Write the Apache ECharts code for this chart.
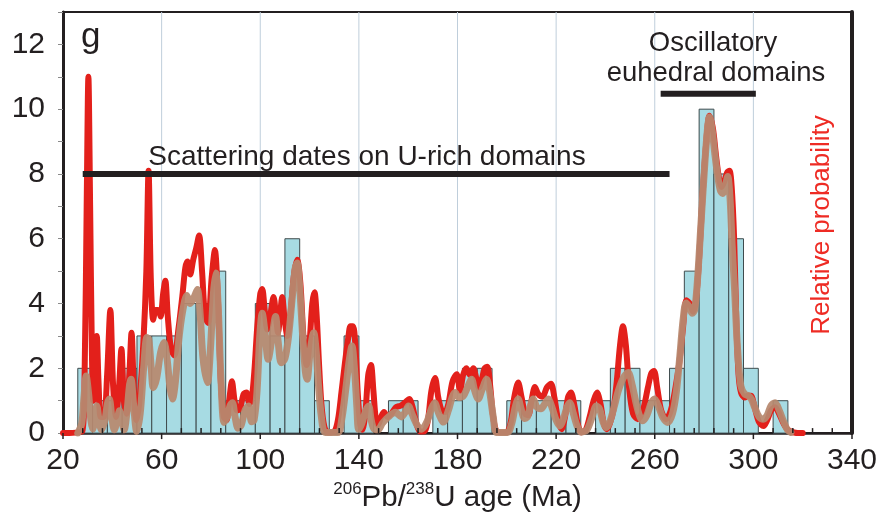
<!DOCTYPE html>
<html>
<head>
<meta charset="utf-8">
<script src="https://cdn.jsdelivr.net/npm/echarts@6/dist/echarts.min.js"></script>
<style>
  html, body { margin: 0; background: #fff; }
  #chart { width: 881px; height: 518px; }
</style>
</head>
<body>
<div id="chart"></div>
<script>
// histogram: 6 Ma bins, left edge + count
const binWidth = 6;
const binStarts = [26, 32, 38, 44, 50, 56, 62, 68, 74, 80, 86, 92, 98, 104, 110, 116, 122, 128,
  134, 140, 146, 152, 158, 164, 170, 176, 182, 188, 194, 200, 206, 212, 218, 224, 230, 236,
  242, 248, 254, 260, 266, 272, 278, 284, 290, 296, 302, 308];
const binCounts = [2, 1, 1, 2, 3, 3, 3, 4, 4, 5, 1, 1, 4, 3, 6, 3, 1, 0,
  3, 1, 0, 1, 1, 0, 1, 1, 2, 2, 0, 1, 1, 1, 1, 1, 0, 1,
  2, 2, 1, 1, 2, 5, 10, 8, 6, 2, 0, 1];

// relative probability curve (red), [age, value on count scale]
const redCurve = [[20,0],[27.8,0.05],[28.8,2.0],[29.6,7.0],[30.3,11.0],[31.0,7.0],[31.7,2.6],[32.3,1.0],
  [33.0,1.8],[33.7,3.0],[34.4,1.6],[35.3,0.5],[36.6,0.5],[37.9,1.8],[39.2,3.8],[40.3,1.5],[41.5,0.5],
  [42.7,1.4],[43.7,2.6],[44.7,1.0],[45.8,0.6],[46.9,1.8],[47.8,3.1],[48.8,1.2],[49.8,0.4],[51.0,1.0],
  [52.6,2.8],[53.8,5.0],[54.7,8.1],[55.6,4.8],[56.6,3.5],[57.6,3.8],[58.6,3.8],[59.6,3.6],[60.6,4.3],
  [61.5,4.7],[62.5,3.6],[63.8,2.6],[65.2,2.4],[66.8,3.2],[68.5,4.3],[69.6,5.1],[70.5,5.3],[71.6,4.9],
  [72.8,5.35],[74.0,5.7],[75.2,6.1],[76.4,5.0],[77.6,3.6],[78.8,3.4],[80.3,4.8],[81.6,5.65],[82.8,4.2],
  [84.0,1.6],[85.2,0.5],[86.3,0.4],[87.4,1.0],[88.5,1.6],[89.6,1.0],[90.6,0.7],[91.8,0.75],[93.2,1.2],
  [94.4,1.25],[95.6,0.9],[96.6,1.1],[97.6,1.9],[98.8,3.3],[100.0,4.3],[100.8,4.45],[101.8,3.8],
  [102.8,3.2],[104.0,3.6],[105.4,4.2],[106.5,3.5],[107.2,3.1],[108.0,3.6],[108.9,4.2],[109.9,3.5],
  [111.0,3.0],[112.4,3.8],[113.7,4.9],[115.0,5.35],[116.3,4.6],[117.5,3.0],[118.8,2.1],[120.0,2.8],
  [121.1,4.0],[122.0,4.35],[122.9,3.6],[123.8,2.2],[124.8,0.9],[126.0,0.2],[127.5,0.02],[130.0,0.05],
  [131.5,0.4],[133.0,1.3],[134.4,2.2],[135.8,3.0],[136.6,3.3],[137.6,3.3],[138.5,2.8],[139.5,1.3],
  [140.5,0.3],[141.4,0.1],[142.6,0.6],[143.8,1.8],[144.9,2.1],[145.9,1.3],[146.9,0.4],[147.8,0.25],
  [149.0,0.5],[150.2,0.65],[151.6,0.5],[153.2,0.6],[155.0,0.8],[157.0,0.85],[158.8,0.95],[160.4,1.05],
  [161.8,0.8],[163.3,0.3],[164.8,0.05],[166.5,0.05],[168.0,0.4],[169.4,1.3],[170.9,1.7],[172.2,1.1],
  [173.6,0.7],[175.0,0.65],[176.3,0.9],[178.0,1.6],[179.7,1.82],[181.0,1.3],[182.3,1.8],[183.6,2.0],
  [185.0,1.8],[186.4,2.0],[187.6,1.7],[188.7,1.4],[190.0,1.7],[191.0,2.0],[192.1,2.05],[193.2,1.5],
  [194.3,0.6],[195.5,0.1],[197.0,0.02],[199.8,0.02],[201.5,0.3],[203.0,1.1],[204.6,1.56],[206.0,1.1],
  [207.4,0.6],[208.7,0.55],[210.0,1.0],[211.4,1.42],[212.8,1.2],[214.5,1.12],[216.2,1.4],[217.9,1.52],
  [219.3,1.1],[220.8,0.4],[222.2,0.12],[223.6,0.5],[224.8,1.1],[226.0,1.25],[227.3,0.9],[228.7,0.3],
  [230.2,0.03],[232.0,0.1],[233.6,0.5],[235.2,1.0],[236.6,1.25],[238.0,0.9],[239.3,0.3],[240.5,0.12],
  [241.8,0.3],[243.2,0.7],[244.6,1.6],[245.9,2.7],[247.1,3.3],[248.3,2.7],[249.6,1.4],[251.2,0.6],
  [253.2,0.43],[255.2,0.7],[257.2,1.4],[258.6,1.85],[259.7,1.92],[261.0,1.4],[262.6,0.7],[264.6,0.43],
  [266.5,0.7],[268.4,1.4],[270.0,2.2],[271.4,3.2],[272.8,4.1],[274.2,4.0],[275.5,3.75],[276.7,4.1],
  [278.0,5.4],[279.3,7.2],[280.7,8.8],[282.2,9.8],[283.6,9.4],[284.8,8.6],[286.0,7.9],[287.1,7.6],
  [288.3,7.8],[289.4,8.05],[290.3,8.1],[291.2,7.6],[292.2,6.0],[293.1,3.4],[294.0,1.8],[295.0,1.25],
  [296.5,1.1],[297.8,1.15],[299.0,1.15],[300.5,0.8],[302.2,0.35],[304.1,0.22],[305.6,0.4],[307.2,0.7],
  [308.8,0.8],[310.4,0.6],[312.2,0.3],[314.0,0.1],[316.5,0.02],[320,0]];

// density estimate (brown)
const brownCurve = [[26,0],[27.6,0.3],[28.5,1.1],[29.4,1.76],[30.4,1.2],[31.3,0.4],[32.1,0.12],[33.0,0.6],
  [33.7,0.84],[34.6,0.4],[35.6,0.1],[37.0,0.4],[38.0,0.9],[38.8,1.05],[39.8,0.5],[40.8,0.1],[42.0,0.4],
  [42.9,0.69],[43.8,0.4],[44.8,0.1],[46.0,0.7],[47.0,1.5],[47.6,1.66],[48.6,0.9],[49.9,0.05],[51.3,0.6],
  [52.7,2.0],[54.0,2.95],[54.8,2.9],[55.8,2.0],[56.6,1.4],[58.0,1.7],[59.6,2.5],[61.0,2.8],[62.2,2.3],
  [63.4,1.4],[64.4,1.05],[65.6,1.6],[67.0,2.9],[68.6,3.8],[70.2,4.25],[71.6,4.0],[73.2,4.2],[74.5,4.43],
  [75.6,3.7],[76.8,2.3],[78.6,1.56],[79.8,2.6],[81.0,4.3],[82.0,4.94],[83.0,3.8],[84.0,1.8],[85.3,0.33],
  [86.6,0.5],[87.8,0.85],[88.7,0.94],[89.8,0.5],[91.0,0.15],[92.3,0.25],[93.8,0.7],[95.2,0.84],[96.5,0.35],
  [97.5,0.4],[98.7,1.3],[99.8,3.0],[100.8,3.7],[101.8,3.2],[103.2,2.28],[104.7,2.9],[106.2,3.6],[107.3,2.8],
  [108.5,2.17],[110.0,2.3],[111.5,3.0],[113.0,4.2],[114.2,5.1],[115.0,5.25],[116.0,4.5],[117.2,3.0],
  [118.3,1.9],[119.0,1.66],[120.2,2.5],[121.2,3.0],[121.7,3.1],[122.6,2.6],[123.6,1.5],[124.8,0.5],
  [126.4,0.02],[131.5,0.02],[133.0,0.4],[134.6,1.3],[136.0,2.2],[137.2,2.69],[138.3,1.9],[139.2,0.8],
  [139.9,0.12],[141.2,0.3],[142.8,0.7],[144.0,0.84],[145.0,0.4],[146.2,0.12],[147.8,0.1],[149.5,0.3],
  [152.0,0.5],[154.8,0.64],[157.2,0.5],[158.8,0.65],[160.1,0.84],[161.5,0.6],[163.6,0.25],[165.5,0.12],
  [167.6,0.35],[169.4,0.75],[170.7,0.94],[172.4,0.6],[174.3,0.34],[176.3,0.7],[177.8,1.1],[179.0,1.25],
  [180.5,1.1],[182.4,1.15],[184.0,1.4],[185.7,1.66],[187.0,1.3],[188.4,1.05],[190.0,1.35],[191.8,1.66],
  [193.0,1.3],[194.5,0.5],[195.9,0.02],[200.3,0.02],[202.0,0.3],[203.4,0.8],[204.6,1.05],[205.8,0.75],
  [207.2,0.45],[208.4,0.5],[209.6,0.85],[210.7,1.05],[212.2,0.8],[213.8,0.75],[215.4,0.9],[216.8,1.05],
  [218.3,0.8],[220.0,0.4],[221.5,0.22],[223.0,0.45],[224.4,0.8],[225.5,0.94],[227.0,0.6],[228.6,0.2],
  [230.2,0.03],[232.5,0.1],[234.6,0.5],[236.3,0.84],[237.6,0.75],[239.0,0.35],[240.3,0.17],[241.8,0.35],
  [243.5,0.8],[245.2,1.3],[247.2,1.7],[249.2,1.87],[250.8,1.5],[252.5,0.9],[254.0,0.5],[255.2,0.38],
  [256.8,0.55],[258.4,0.9],[259.9,1.05],[261.4,0.85],[263.2,0.5],[265.3,0.33],[267.2,0.6],[268.8,1.3],
  [270.2,2.4],[271.5,3.5],[272.7,4.02],[274.0,3.9],[275.2,3.7],[276.2,3.8],[277.4,4.8],[278.7,6.4],
  [280.2,8.2],[281.4,9.4],[282.2,9.76],[283.2,9.4],[284.4,8.6],[285.6,7.9],[286.6,7.5],[287.5,7.4],
  [288.5,7.6],[289.6,7.92],[290.5,7.3],[291.4,5.8],[292.4,4.4],[293.5,2.7],[294.9,1.46],[296.5,1.2],
  [298.0,1.15],[299.2,1.05],[300.5,0.8],[302.3,0.5],[304.1,0.43],[305.6,0.55],[307.2,0.85],[308.8,0.94],
  [310.5,0.7],[312.3,0.35],[313.8,0.1],[315.2,0.02]];

// annotation bars (age range at a count level)
const scatterBar = [[28.0, 8], [266.0, 8]];
const oscillatoryBar = [[262.4, 10.48], [301.0, 10.48]];

// axis decorations
const gridAges = [60, 100, 140, 180, 220, 260, 300];
const majorTickAges = [20, 60, 100, 140, 180, 220, 260, 300, 340];
const minorTickAges = [28, 36, 44, 52, 68, 76, 84, 92, 108, 116, 124, 132, 148, 156, 164, 172,
  188, 196, 204, 212, 228, 236, 244, 252, 268, 276, 284, 292, 308, 316, 324, 332];

const FONT = '"Liberation Sans", Arial, sans-serif';
const INK = '#231f20';

const chart = echarts.init(document.getElementById('chart'), null, { renderer: 'canvas' });

const bins = binStarts
  .map((start, i) => [start, binCounts[i]])
  .filter((d) => d[1] > 0);

const option = {
  animation: false,
  grid: {
    left: 63, right: 29, top: 12, bottom: 84,
    show: true, borderColor: INK, borderWidth: 2, backgroundColor: 'transparent',
  },
  xAxis: {
    type: 'value', min: 20, max: 340, interval: 20,
    axisLine: { lineStyle: { color: INK, width: 2.5 } },
    axisTick: { show: false },
    splitLine: { show: false },
    axisLabel: {
      margin: 13, fontSize: 30, fontFamily: FONT, color: INK,
      formatter: (v) => ((v - 20) % 40 === 0 ? String(v) : ''),
    },
    name: '{sup|206}{main|Pb/}{sup|238}{main|U age (Ma)}',
    nameLocation: 'middle',
    nameGap: 46,
    nameTextStyle: {
      rich: {
        main: { fontSize: 29.5, fontFamily: FONT, color: INK, lineHeight: 34 },
        sup: { fontSize: 17, fontFamily: FONT, color: INK, lineHeight: 18, verticalAlign: 'top' },
      },
    },
  },
  yAxis: [
    {
      type: 'value', min: 0, max: 13, interval: 1, position: 'left',
      axisLine: { show: true, lineStyle: { color: INK, width: 3 } },
      axisTick: { show: true, length: 5, lineStyle: { color: '#8a8a8a' } },
      splitLine: { show: false },
      axisLabel: {
        margin: 18, fontSize: 30, fontFamily: FONT, color: INK,
        formatter: (v) => (v % 2 === 0 && v < 13 ? String(v) : ''),
      },
    },
    {
      type: 'value', min: 0, max: 13, position: 'right',
      axisLine: { show: true, lineStyle: { color: INK, width: 4 } },
      axisTick: { show: false }, axisLabel: { show: false }, splitLine: { show: false },
    },
  ],
  series: [
    {
      // vertical grid lines
      type: 'custom', silent: true, z: 0,
      data: gridAges.map((v) => [v]),
      encode: { x: 0 },
      renderItem: (params, api) => {
        const a = api.coord([api.value(0), 0]);
        const b = api.coord([api.value(0), 13]);
        return {
          type: 'line',
          shape: { x1: a[0], y1: a[1], x2: b[0], y2: b[1] },
          style: { stroke: '#bfcedb', lineWidth: 1 },
        };
      },
    },
    {
      // histogram
      type: 'custom', silent: true, z: 1,
      data: bins,
      encode: { x: 0, y: 1 },
      renderItem: (params, api) => {
        const x0 = api.value(0);
        const top = api.coord([x0, api.value(1)]);
        const base = api.coord([x0 + binWidth, 0]);
        return {
          type: 'rect',
          shape: { x: top[0], y: top[1], width: base[0] - top[0], height: base[1] - top[1] },
          style: { fill: '#a7dbe3', stroke: '#3f4b4d', lineWidth: 1 },
        };
      },
    },
    {
      name: 'Relative probability',
      type: 'line', z: 2, data: redCurve,
      smooth: 0.3, symbol: 'none',
      lineStyle: { color: '#e3201b', width: 6, cap: 'round', join: 'round' },
    },
    {
      name: 'KDE',
      type: 'line', z: 3, data: brownCurve,
      smooth: 0.3, symbol: 'none',
      lineStyle: { color: '#b7896f', width: 7, opacity: 0.93, cap: 'round', join: 'round' },
    },
    {
      type: 'line', z: 4, data: scatterBar, symbol: 'none',
      lineStyle: { color: INK, width: 6, cap: 'butt' },
    },
    {
      type: 'line', z: 4, data: oscillatoryBar, symbol: 'none',
      lineStyle: { color: INK, width: 6, cap: 'butt' },
    },
    {
      // minor ticks, pointing up into the plot
      type: 'custom', silent: true, z: 5,
      data: minorTickAges.map((v) => [v]),
      encode: { x: 0 },
      renderItem: (params, api) => {
        const p = api.coord([api.value(0), 0]);
        return {
          type: 'line',
          shape: { x1: p[0], y1: p[1], x2: p[0], y2: p[1] - 5 },
          style: { stroke: INK, lineWidth: 1.5 },
        };
      },
    },
    {
      // major ticks, pointing down
      type: 'custom', silent: true, z: 5,
      data: majorTickAges.map((v) => [v]),
      encode: { x: 0 },
      renderItem: (params, api) => {
        const p = api.coord([api.value(0), 0]);
        return {
          type: 'line',
          shape: { x1: p[0], y1: p[1], x2: p[0], y2: p[1] + 6 },
          style: { stroke: INK, lineWidth: 1.5 },
        };
      },
    },
  ],
  graphic: [
    {
      type: 'text', x: 81, y: 37, z: 10,
      style: { text: 'g', fontSize: 35, fontFamily: FONT, fill: INK, align: 'left', verticalAlign: 'middle' },
    },
    {
      type: 'text', x: 367, y: 157, z: 10,
      style: {
        text: 'Scattering dates on U-rich domains', fontSize: 28, fontFamily: FONT, fill: INK,
        align: 'center', verticalAlign: 'middle',
      },
    },
    {
      type: 'text', x: 713, y: 43, z: 10,
      style: { text: 'Oscillatory', fontSize: 27.5, fontFamily: FONT, fill: INK, align: 'center', verticalAlign: 'middle' },
    },
    {
      type: 'text', x: 716, y: 73, z: 10,
      style: { text: 'euhedral domains', fontSize: 27.5, fontFamily: FONT, fill: INK, align: 'center', verticalAlign: 'middle' },
    },
    {
      type: 'text', x: 822, y: 225, rotation: Math.PI / 2, z: 10,
      style: {
        text: 'Relative probability', fontSize: 26, fontFamily: FONT, fill: '#ee2b24',
        align: 'center', verticalAlign: 'middle',
      },
    },
  ],
};

chart.setOption(option);
window.addEventListener('resize', () => chart.resize());
</script>
</body>
</html>
